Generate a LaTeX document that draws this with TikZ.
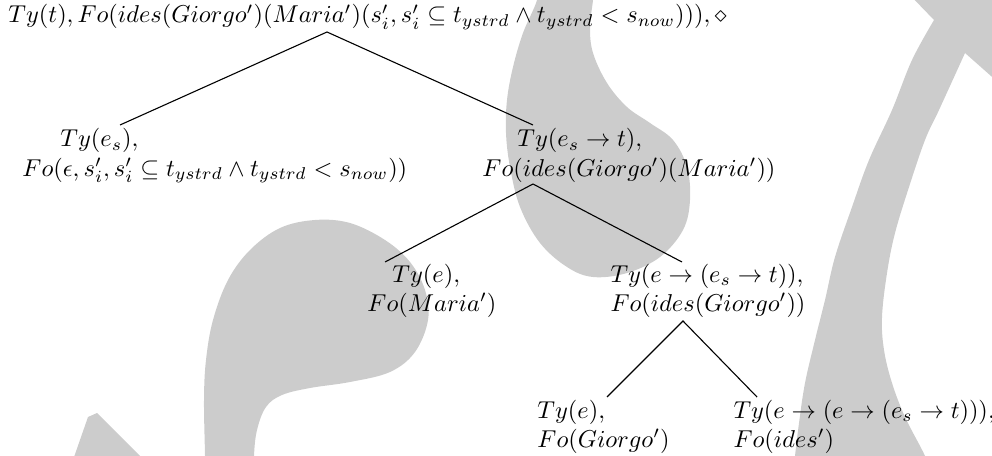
\documentclass[tikz,border=0pt]{standalone}
\usepackage{amsmath,amssymb}
\newdimen\pxu \pxu=0.41pt
\tikzset{
  lbl/.style={inner sep=0pt, anchor=base west, font=\fontsize{10}{12}\selectfont},
  blob/.style={fill=black!20, draw=none},
  branch/.style={draw=black, line width=0.45pt}
}
\begin{document}
\begin{tikzpicture}[x=0.41pt,y=-0.41pt]
\useasboundingbox (0,0) rectangle (992,456);
\begin{scope}
\clip (0,0) rectangle (992,456);
% middle blob
\fill[blob] plot[smooth cycle, tension=0.6] coordinates {
 (540,-25) (537,0) (523,33) (513,67) (507,100) (506,133) (510,167) (520,207)
 (540,243) (567,267) (593,277) (627,273) (660,257) (683,230) (690,200)
 (687,167) (673,140) (650,123) (627,107) (607,83) (593,53) (590,27) (593,0) (595,-25)};
% lower-left blob
\fill[blob] plot[smooth cycle, tension=0.6] coordinates {
 (255,475) (254,456) (257,430) (266,407) (282,395) (310,388) (350,382) (390,372)
 (415,352) (428,320) (425,290) (410,262) (385,240) (350,223) (315,220) (280,228)
 (250,250) (228,280) (213,320) (206,360) (204,400) (205,456) (205,475)};
% small wedge
\fill[blob] (73,460) -- (88,417) -- (97,413) -- (144,460) -- cycle;
% right band
\fill[blob] (905,-10) -- (934,20) -- plot[smooth, tension=0.6] coordinates {
 (934,20) (912,60) (892,110) (869,160) (852,207) (835,257) (825,300) (815,340)
 (805,383) (799,423) (795,456) (794,470)} -- (928,470) -- plot[smooth, tension=0.6] coordinates {
 (928,470) (925,456) (905,417) (892,383) (884,350) (882,317) (887,273) (895,233)
 (909,187) (925,140) (939,110) (965,53)} -- (1000,84) -- (1000,-10) -- cycle;
\end{scope}

% nodes
\node[lbl] (root) at (8,23) {$Ty(t), Fo(ides(Giorgo')(Maria')(s'_i, s'_i \subseteq t_{ystrd} \wedge t_{ystrd} < s_{now}))), \diamond$};
\node[lbl] (L) at (22,147) {\begin{tabular}[t]{@{}l@{}}\hspace*{38\pxu}$Ty(e_s),$\\ $Fo(\epsilon, s'_i, s'_i \subseteq t_{ystrd} \wedge t_{ystrd} < s_{now}))$\end{tabular}};
\node[lbl] (R) at (482,147) {\begin{tabular}[t]{@{}l@{}}\hspace*{35\pxu}$Ty(e_s \rightarrow t),$\\ $Fo(ides(Giorgo')(Maria'))$\end{tabular}};
\node[lbl] (M) at (367,282) {\begin{tabular}[t]{@{}l@{}}\hspace*{25\pxu}$Ty(e),$\\ $Fo(Maria')$\end{tabular}};
\node[lbl] (G2) at (610,282) {\begin{tabular}[t]{@{}l@{}}$Ty(e \rightarrow (e_s \rightarrow t)),$\\ $Fo(ides(Giorgo'))$\end{tabular}};
\node[lbl] (GG) at (537,418) {\begin{tabular}[t]{@{}l@{}}$Ty(e),$\\ $Fo(Giorgo')$\end{tabular}};
\node[lbl] (ID) at (733,418) {\begin{tabular}[t]{@{}l@{}}$Ty(e \rightarrow (e \rightarrow (e_s \rightarrow t))),$\\ $Fo(ides')$\end{tabular}};

% connector ends
\coordinate (rootB) at (327,32);
\coordinate (Ltop) at (120,125);
\coordinate (Rtop) at (533,125);
\coordinate (Rbot) at (533,184);
\coordinate (Mtop) at (385,262);
\coordinate (G2top) at (682,262);
\coordinate (G2bot) at (683,321);
\coordinate (GGtop) at (607,397);
\coordinate (IDtop) at (757,397);

\draw[branch] (Ltop) -- (rootB) -- (Rtop);
\draw[branch] (Mtop) -- (Rbot) -- (G2top);
\draw[branch] (GGtop) -- (G2bot) -- (IDtop);
\end{tikzpicture}
\end{document}
